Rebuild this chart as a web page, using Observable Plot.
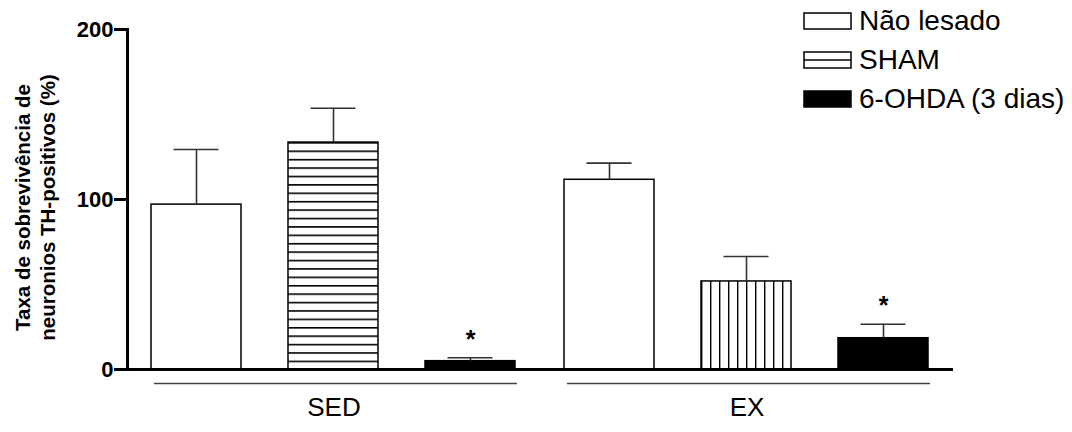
<!DOCTYPE html>
<html>
<head>
<meta charset="utf-8">
<script src="https://cdn.jsdelivr.net/npm/d3@7"></script>
<script src="https://cdn.jsdelivr.net/npm/@observablehq/plot@0.6"></script>
<style>
  body { margin: 0; background: #fff; font-family: "Liberation Sans", Arial, sans-serif; }
  #chart { position: relative; width: 1072px; height: 432px; }
  .legend { position: absolute; left: 803px; top: 1px; }
  .legend .row { display: flex; align-items: center; height: 39px; font-size: 28px; color: #000; }
  .legend svg { margin-right: 7px; display: block; }
</style>
</head>
<body>
<div id="chart"></div>
<script>
// Survival of TH-positive neurons (% of control), mean + SEM
const groups = ["SED", "EX"];
const treatments = ["Não lesado", "SHAM", "6-OHDA (3 dias)"];
const sedMeans = [97, 133.5, 4.9];
const sedErrors = [32.4, 20.2, 2.0];
const exMeans = [111.6, 51.8, 18.4];
const exErrors = [9.8, 14.7, 8.2];
const sedSignificant = [false, false, true];
const exSignificant = [false, false, true];
const yTicks = [0, 100, 200];
const yTitle = ["Taxa de sobrevivência de", "neuronios TH-positivos (%)"];

const rows = [];
treatments.forEach((t, i) => {
  rows.push({group: "SED", treatment: t, mean: sedMeans[i], err: sedErrors[i], sig: sedSignificant[i]});
});
treatments.forEach((t, i) => {
  rows.push({group: "EX", treatment: t, mean: exMeans[i], err: exErrors[i], sig: exSignificant[i]});
});

// Hatching: white, striped (horizontal for SED, vertical for EX), solid black
function fillFor(d) {
  const k = treatments.indexOf(d.treatment);
  if (k === 0) return "white";
  if (k === 2) return "black";
  return d.group === "SED" ? "url(#stripes-h)" : "url(#stripes-v)";
}
const errTop = d => d.mean + d.err;
const errColor = "#333";

const plot = Plot.plot({
  width: 1072,
  height: 432,
  marginLeft: 127,
  marginRight: 119,
  marginTop: 29,
  marginBottom: 63,
  style: {fontFamily: "'Liberation Sans', Arial, sans-serif", color: "#000", background: "white"},
  fx: {domain: groups, padding: 0, label: null},
  x: {domain: treatments, paddingInner: 0.34, paddingOuter: 0.17, axis: null},
  y: {domain: [0, 200]},
  color: {type: "identity"},
  marks: [
    Plot.barY(rows, {fx: "group", x: "treatment", y: "mean", fill: fillFor, stroke: "black", strokeWidth: 1.5}),
    Plot.ruleX(rows, {fx: "group", x: "treatment", y1: "mean", y2: errTop, stroke: errColor, strokeWidth: 1.6}),
    Plot.tickY(rows, {fx: "group", x: "treatment", y: errTop, stroke: errColor, strokeWidth: 1.6, insetLeft: 22.5, insetRight: 22.5}),
    Plot.text(rows.filter(d => d.sig), {fx: "group", x: "treatment", y: errTop, text: () => "*", fontSize: 25, fontWeight: "bold", dy: -18}),
    // x baseline
    Plot.ruleY([0], {stroke: "black", strokeWidth: 3}),
    // y axis line, only on the left-most panel
    Plot.frame({anchor: "left", fx: ["SED"], stroke: "black", strokeWidth: 3}),
    // group brackets under each group of bars
    Plot.ruleY([0], {stroke: "#444", strokeWidth: 1.5, dy: 14, insetLeft: 27, insetRight: 23}),
    Plot.axisY({ticks: yTicks, tickSize: 13, strokeWidth: 3, fontSize: 22, fontWeight: "bold", label: null, tickPadding: 1}),
    Plot.axisFx({anchor: "bottom", tickSize: 0, tickPadding: 28, fontSize: 26, label: null}),
    Plot.text([yTitle.join("\n")], {fx: ["SED"], text: d => d, frameAnchor: "left", textAnchor: "middle", rotate: -90, dx: -93, dy: 8, fontSize: 20.5, fontWeight: "bold", lineHeight: 1.2})
  ]
});

// pattern definitions for the striped bars
const defs = d3.select(plot).insert("defs", ":first-child");
const ph = defs.append("pattern").attr("id", "stripes-h")
  .attr("patternUnits", "objectBoundingBox").attr("width", 1).attr("height", 1 / 27);
ph.append("rect").attr("width", 400).attr("height", 400).attr("fill", "white");
ph.append("rect").attr("width", 400).attr("height", 1.6).attr("fill", "black");
const pv = defs.append("pattern").attr("id", "stripes-v")
  .attr("patternUnits", "objectBoundingBox").attr("width", 0.1).attr("height", 1);
pv.append("rect").attr("width", 400).attr("height", 400).attr("fill", "white");
pv.append("rect").attr("width", 1.4).attr("height", 400).attr("fill", "black");

const chart = document.getElementById("chart");
chart.appendChild(plot);

// legend
const legend = d3.select(chart).append("div").attr("class", "legend");
treatments.forEach((t, k) => {
  const row = legend.append("div").attr("class", "row");
  const s = row.append("svg").attr("width", 49).attr("height", 18);
  s.append("rect").attr("x", 1).attr("y", 1).attr("width", 47).attr("height", 16)
    .attr("fill", k === 2 ? "black" : "white").attr("stroke", "black").attr("stroke-width", 1.5);
  if (k === 1) s.append("line").attr("x1", 1).attr("x2", 48).attr("y1", 9).attr("y2", 9)
    .attr("stroke", "black").attr("stroke-width", 1.5);
  row.append("span").text(t);
});
</script>
</body>
</html>
